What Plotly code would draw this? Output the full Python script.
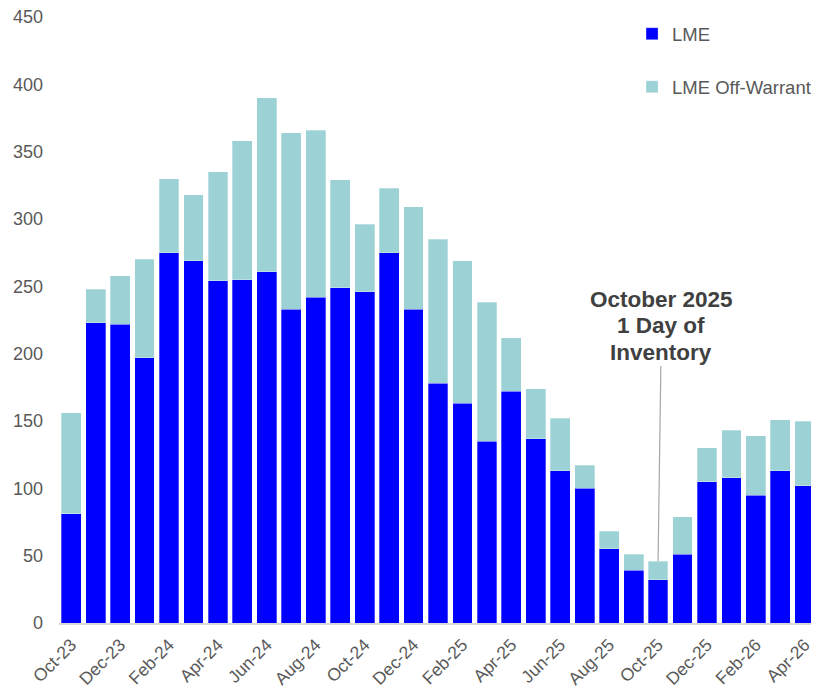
import plotly.graph_objects as go

months = ["Oct-23","Nov-23","Dec-23","Jan-24","Feb-24","Mar-24","Apr-24","May-24","Jun-24","Jul-24",
          "Aug-24","Sep-24","Oct-24","Nov-24","Dec-24","Jan-25","Feb-25","Mar-25","Apr-25","May-25",
          "Jun-25","Jul-25","Aug-25","Sep-25","Oct-25","Nov-25","Dec-25","Jan-26","Feb-26","Mar-26","Apr-26"]
lme = [81, 223, 222, 197, 275, 269, 254, 255, 261, 233,
       242, 249, 246, 275, 233, 178, 163, 135, 172, 137,
       113, 100, 55, 39, 32, 51, 105, 108, 95, 113, 102]
total = [156, 248, 258, 270, 330, 318, 335, 358, 390, 364,
         366, 329, 296, 323, 309, 285, 269, 238, 212, 174,
         152, 117, 68, 51, 46, 79, 130, 143, 139, 151, 150]
off_warrant = [t - l for t, l in zip(total, lme)]
tick_labels = months[::2]
y_ticks = list(range(0, 451, 50))

annot_month = "Oct-25"
annot_lines = ["October 2025", "1 Day of", "Inventory"]

grey = "#595959"
FONT = "Liberation Sans, Arial"
fig = go.Figure()
fig.add_trace(go.Bar(x=months, y=lme, name="LME", legendgroup="a",
                     marker=dict(color="#0000FF", line=dict(color="rgba(255,255,255,0.5)", width=0.6))))
fig.add_trace(go.Bar(x=months, y=off_warrant, name="LME Off-Warrant", legendgroup="b",
                     marker=dict(color="#9CD2D5", line=dict(color="rgba(255,255,255,0.5)", width=0.6))))

idx = months.index(annot_month)
afont = dict(size=22.5, color="#404040", family=FONT)
line_gap = 26.5
# first two lines as plain text, last line carries the leader line
for k, txt in enumerate(annot_lines[:-1]):
    fig.add_annotation(x=idx, y=total[idx], xref="x", yref="y", text=f"<b>{txt}</b>",
                       showarrow=False, xshift=3, yshift=209 + line_gap * (2 - k),
                       font=afont, align="center")
fig.add_annotation(x=idx, y=total[idx], xref="x", yref="y", text=f"<b>{annot_lines[-1]}</b>",
                   showarrow=True, arrowhead=0, arrowwidth=1.2, arrowcolor="#A6A6A6",
                   ax=3, ay=-209, font=afont, align="center", borderpad=1)

fig.update_layout(
    width=811, height=682,
    margin=dict(l=51, r=2, t=9, b=67, autoexpand=False),
    barmode="stack", bargap=0.19,
    plot_bgcolor="white", paper_bgcolor="white",
    font=dict(family=FONT, color=grey),
    showlegend=True,
    legend=dict(x=0.756, y=1.003, xanchor="left", yanchor="top", traceorder="grouped",
                tracegroupgap=26, font=dict(size=18.5, color=grey), bgcolor="rgba(0,0,0,0)",
                itemwidth=30),
    xaxis=dict(type="category", tickmode="array", tickvals=tick_labels, ticktext=tick_labels,
               tickangle=-45, tickfont=dict(size=17.5, color=grey), showgrid=False,
               showline=True, linecolor="#D9D9D9", linewidth=1.5, ticks="", ticklabelstandoff=3,
               range=[-0.5, len(months) - 0.5]),
    yaxis=dict(range=[0, 450], tickvals=y_ticks, tickfont=dict(size=18, color=grey),
               showgrid=False, zeroline=False, showline=False, ticks="", ticklabelstandoff=15,
               ticklabeloverflow="allow"),
)

fig.write_html("out.html")
